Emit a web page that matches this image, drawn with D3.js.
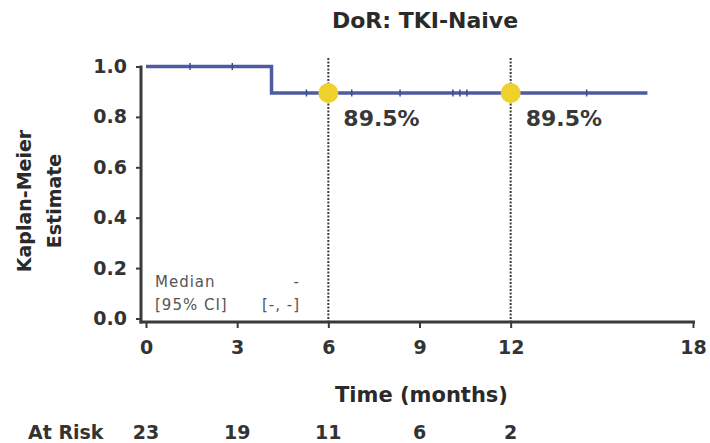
<!DOCTYPE html>
<html>
<head>
<meta charset="utf-8">
<script src="https://cdn.jsdelivr.net/npm/d3@7"></script>
<style>
  html, body { margin: 0; padding: 0; background: #fff; }
  svg { display: block; font-family: "DejaVu Sans", sans-serif; }
</style>
</head>
<body>
<svg id="chart" width="710" height="443"></svg>
<script>
// Kaplan-Meier step curve: times (months) where the estimate changes, and the estimate after each step
const stepTimes = [0, 4.13, 16.5];
const stepSurvival = [1.0, 0.895, 0.895];
// Censored observations (months)
const censorTimes = [1.45, 2.84, 5.28, 6.77, 8.36, 10.1, 10.33, 10.56, 14.5];
// Landmark estimates
const landmarkTimes = [6, 12];
const landmarkValues = [89.5, 89.5];
// Axis ticks
const xTicks = [0, 3, 6, 9, 12, 18];
const yTicks = [0, 0.2, 0.4, 0.6, 0.8, 1.0];
// Number at risk below the axis
const riskTimes = [0, 3, 6, 9, 12];
const riskCounts = [23, 19, 11, 6, 2];

const svg = d3.select("#chart");
const x = d3.scaleLinear().domain([0, 18]).range([146, 693]);
const y = d3.scaleLinear().domain([0, 1]).range([318.5, 66.5]);
const axisY = 322;      // x-axis baseline, slightly below zero
const axisX = 141;      // y-axis line, slightly left of time zero
const ink = "#3a3a3a";
const lineColor = "#4d5ca2";

// Title
svg.append("text")
  .attr("x", 425).attr("y", 20).attr("dy", "0.36em")
  .attr("text-anchor", "middle")
  .attr("font-size", 22).attr("font-weight", "bold").attr("fill", "#2a2a2a")
  .text("DoR: TKI-Naive");

// Y axis
const yAxis = svg.append("g")
  .attr("transform", `translate(${axisX},0)`)
  .call(d3.axisLeft(y).tickValues(yTicks).tickSize(5).tickPadding(9).tickFormat(d3.format(".1f")));
yAxis.select(".domain").remove();
yAxis.selectAll(".tick line").attr("stroke", ink).attr("stroke-width", 2);
yAxis.selectAll(".tick text")
  .attr("font-size", 19).attr("font-weight", "bold").attr("fill", "#333")
  .attr("font-family", "DejaVu Sans");
svg.append("line")
  .attr("x1", axisX).attr("x2", axisX)
  .attr("y1", y(1) - 1).attr("y2", axisY + 1.5)
  .attr("stroke", ink).attr("stroke-width", 3);

// X axis
const xAxis = svg.append("g")
  .attr("transform", `translate(0,${axisY})`)
  .call(d3.axisBottom(x).tickValues(xTicks).tickSize(6).tickPadding(13));
xAxis.select(".domain").remove();
xAxis.selectAll(".tick line").attr("stroke", ink).attr("stroke-width", 2);
xAxis.selectAll(".tick text")
  .attr("font-size", 19).attr("font-weight", "bold").attr("fill", "#333")
  .attr("font-family", "DejaVu Sans");
svg.append("line")
  .attr("x1", axisX - 1.5).attr("x2", x(18) + 2)
  .attr("y1", axisY).attr("y2", axisY)
  .attr("stroke", ink).attr("stroke-width", 3);

// Axis titles
svg.append("text")
  .attr("x", x(9) + 2).attr("y", 394).attr("dy", "0.36em")
  .attr("text-anchor", "middle")
  .attr("font-size", 21).attr("font-weight", "bold").attr("fill", "#2a2a2a")
  .text("Time (months)");
const yTitle = svg.append("text")
  .attr("transform", "translate(24,201) rotate(-90)")
  .attr("text-anchor", "middle")
  .attr("font-size", 19).attr("font-weight", "bold").attr("fill", "#2a2a2a");
yTitle.append("tspan").attr("x", 0).attr("dy", "0.36em").text("Kaplan-Meier");
yTitle.append("tspan").attr("x", 0).attr("dy", 30).text("Estimate");

// Landmark reference lines
svg.selectAll("line.landmark")
  .data(landmarkTimes)
  .join("line")
  .attr("class", "landmark")
  .attr("x1", d => x(d)).attr("x2", d => x(d))
  .attr("y1", 58).attr("y2", axisY)
  .attr("stroke", "#3c3c3c").attr("stroke-width", 2)
  .attr("stroke-dasharray", "2,1.5");

// KM step curve
const km = d3.line()
  .x(d => x(d[0])).y(d => y(d[1]))
  .curve(d3.curveStepAfter);
svg.append("path")
  .datum(stepTimes.map((t, i) => [t, stepSurvival[i]]))
  .attr("d", km)
  .attr("fill", "none").attr("stroke", lineColor).attr("stroke-width", 3.5);

// Survival value at a given time
const survAt = t => {
  let s = stepSurvival[0];
  stepTimes.forEach((st, i) => { if (t >= st) s = stepSurvival[i]; });
  return s;
};

// Censor marks
svg.selectAll("line.censor")
  .data(censorTimes)
  .join("line")
  .attr("class", "censor")
  .attr("x1", d => x(d)).attr("x2", d => x(d))
  .attr("y1", d => y(survAt(d)) - 3.5).attr("y2", d => y(survAt(d)) + 3.5)
  .attr("stroke", "#3e4c8e").attr("stroke-width", 1.5);

// Landmark points and labels
svg.selectAll("circle.landmark")
  .data(landmarkTimes)
  .join("circle")
  .attr("class", "landmark")
  .attr("cx", d => x(d))
  .attr("cy", (d, i) => y(landmarkValues[i] / 100))
  .attr("r", 10)
  .attr("fill", "#f0d02a");
svg.selectAll("text.landmark")
  .data(landmarkTimes)
  .join("text")
  .attr("class", "landmark")
  .attr("x", d => x(d) + 15)
  .attr("y", (d, i) => y(landmarkValues[i] / 100) + 25)
  .attr("dy", "0.36em")
  .attr("font-size", 22).attr("font-weight", "bold").attr("fill", "#383838")
  .text((d, i) => d3.format(".1f")(landmarkValues[i]) + "%");

// Median summary box text
const med = svg.append("g").attr("font-size", 15).attr("fill", "#555").attr("letter-spacing", 1);
med.append("text").attr("x", 155).attr("y", 282).attr("dy", "0.36em").text("Median");
med.append("text").attr("x", 155).attr("y", 305).attr("dy", "0.36em").text("[95% CI]");
med.append("text").attr("x", 300).attr("y", 282).attr("dy", "0.36em").attr("text-anchor", "end").text("-");
med.append("text").attr("x", 300).attr("y", 305).attr("dy", "0.36em").attr("text-anchor", "end").text("[-, -]");

// Number at risk row
svg.append("text")
  .attr("x", 28).attr("y", 432).attr("dy", "0.36em")
  .attr("font-size", 19).attr("font-weight", "bold").attr("fill", "#333")
  .text("At Risk");
svg.selectAll("text.risk")
  .data(riskTimes)
  .join("text")
  .attr("class", "risk")
  .attr("x", d => x(d)).attr("y", 432).attr("dy", "0.36em")
  .attr("text-anchor", "middle")
  .attr("font-size", 19).attr("font-weight", "bold").attr("fill", "#333")
  .text((d, i) => riskCounts[i]);
</script>
</body>
</html>
